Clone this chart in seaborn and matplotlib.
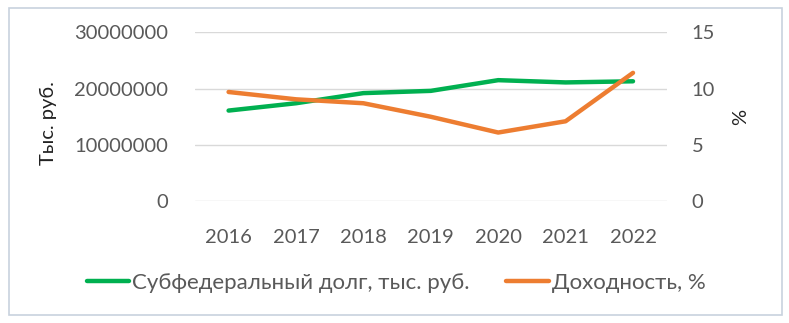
import matplotlib
matplotlib.use("Agg")
import matplotlib.pyplot as plt
import matplotlib.patches as mpatches
import numpy as np
import pandas as pd
import seaborn as sns

years = ["2016", "2017", "2018", "2019", "2020", "2021", "2022"]
debt = [16100000, 17400000, 19200000, 19600000, 21500000, 21100000, 21300000]
yield_pct = [9.7, 9.05, 8.7, 7.5, 6.1, 7.1, 11.4]

debt_label = "Субфедеральный долг, тыс. руб."
yield_label = "Доходность, %"

df = pd.DataFrame({"year": years, "debt": debt, "yield": yield_pct})

sns.set_theme(style="white")
plt.rcParams["font.family"] = ["Lato", "DejaVu Sans"]

text_col = "#595959"
green = "#00B050"
orange = "#ED7D31"

fig = plt.figure(figsize=(7.89, 3.23), dpi=100)
ax = fig.add_axes([0.247, 0.377, 0.598, 0.523])
ax2 = ax.twinx()

sns.lineplot(data=df, x="year", y="debt", ax=ax, color=green, linewidth=3.2,
             label=debt_label, legend=False, zorder=3)
sns.lineplot(data=df, x="year", y="yield", ax=ax2, color=orange, linewidth=3.2,
             label=yield_label, legend=False, zorder=3)

ax.set_xlim(-0.5, len(years) - 0.5)
ax.set_ylim(0, 30000000)
ax.set_yticks([0, 10000000, 20000000, 30000000])
ax.set_yticklabels(["0", "10000000", "20000000", "30000000"])
ax2.set_ylim(0, 15)
ax2.set_yticks([0, 5, 10, 15])
ax2.set_yticklabels(["0", "5", "10", "15"])

ax.yaxis.grid(True, color="#D9D9D9", linewidth=1)
ax.set_axisbelow(True)
for a in (ax, ax2):
    for s in a.spines.values():
        s.set_visible(False)
    a.tick_params(length=0, labelsize=14.5, colors=text_col)
ax.tick_params(axis="y", pad=19.5)
ax2.tick_params(axis="y", pad=18)
ax.tick_params(axis="x", pad=20)

ax.set_xlabel("")
ax.set_ylabel("Тыс. руб.", fontsize=14.5, color="#222222")
ax.yaxis.set_label_coords(-0.292, 0.463)
ax2.set_ylabel("%", fontsize=14.5, color="#222222", labelpad=12)

h1, l1 = ax.get_legend_handles_labels()
h2, l2 = ax2.get_legend_handles_labels()
fig.legend(h1 + h2, l1 + l2, loc="center", bbox_to_anchor=(0.502, 0.124), ncol=2,
           frameon=False, fontsize=16, labelcolor=text_col, handlelength=1.9,
           handletextpad=0.15, columnspacing=1.65)

fig.patches.append(mpatches.Rectangle((0.011, 0.024), 0.98, 0.952, transform=fig.transFigure,
                                      fill=False, edgecolor="#C8D2DE", linewidth=1.2))

plt.savefig("out.png", dpi=100)
